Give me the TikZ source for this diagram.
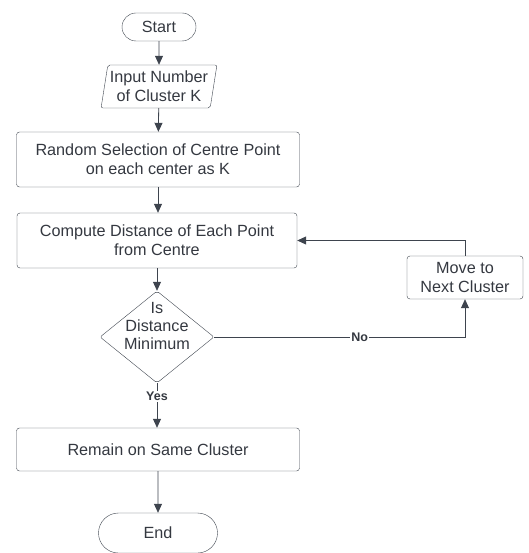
\documentclass[tikz,border=0pt]{standalone}
\usepackage{fontspec}
\setmainfont{Liberation Sans}
\usepackage{tikz}
\usetikzlibrary{shapes.misc, shapes.geometric}
\usetikzlibrary{arrows,arrows.meta}
\definecolor{linie}{RGB}{62,68,78}
\definecolor{schrift}{RGB}{52,56,64}

\begin{document}
\begin{tikzpicture}[x=1pt, y=1pt,
	box/.style={draw=linie, rounded corners=3pt, align=center, text=schrift, font=\fontsize{16.2}{18.7}\selectfont, inner sep=0pt},
	terminal/.style={draw=linie, rounded rectangle, align=center, text=schrift, font=\fontsize{16.2}{18.7}\selectfont, inner sep=0pt},
	pfeil/.style={draw=linie, thick, -{Triangle[length=9pt, width=8pt]}},
	lbl/.style={fill=white, text=schrift, font=\fontsize{12.5}{14}\selectfont\bfseries, inner sep=1pt}]

	\useasboundingbox (0,0) rectangle (528,-553);

	\node[terminal, minimum width=74, minimum height=28] (start) at (159,-27) {Start};
	\node[draw=linie, trapezium, trapezium left angle=78, trapezium right angle=102, trapezium stretches=true, minimum width=116, minimum height=43, inner sep=0pt, align=center, text=schrift, font=\fontsize{16.2}{18.7}\selectfont, rounded corners=2pt] (input) at (159,-86.5) {Input Number\\of Cluster K};
	\node[box, minimum width=283, minimum height=55] (random) at (158,-159.5) {Random Selection of Centre Point\\on each center as K};
	\node[box, minimum width=280, minimum height=55] (compute) at (157,-240.5) {Compute Distance of Each Point\\from Centre};
	\node[draw=linie, diamond, minimum width=114, minimum height=92, inner sep=0pt, rounded corners=2pt,
		label={[yshift=11pt, align=center, text=schrift, font=\fontsize{16.2}{18}\selectfont]center:Is\\Distance\\Minimum}] (decision) at (157,-337) {};
	\node[box, minimum width=116, minimum height=43] (move) at (465,-277.5) {Move to\\Next Cluster};
	\node[box, minimum width=283, minimum height=43] (remain) at (158,-449.5) {Remain on Same Cluster};
	\node[terminal, minimum width=119, minimum height=40] (end) at (158,-533) {End};

	\draw[pfeil] (start) -- (input);
	\draw[pfeil] (input) -- (random);
	\draw[pfeil] (random.south) -- (compute.north -| random.south);
	\draw[pfeil] (compute.south) -- (decision.north);
	\draw[pfeil] (decision.south) -- node[lbl, pos=0.3]{Yes} (remain.north -| decision.south);
	\draw[pfeil] (remain) -- (end);
	% Schleife zurueck
	\draw[pfeil] (decision.east) -| node[lbl, pos=0.29]{No} (move.south);
	\draw[pfeil] (move.north) |- (compute.east);

\end{tikzpicture}
\end{document}
